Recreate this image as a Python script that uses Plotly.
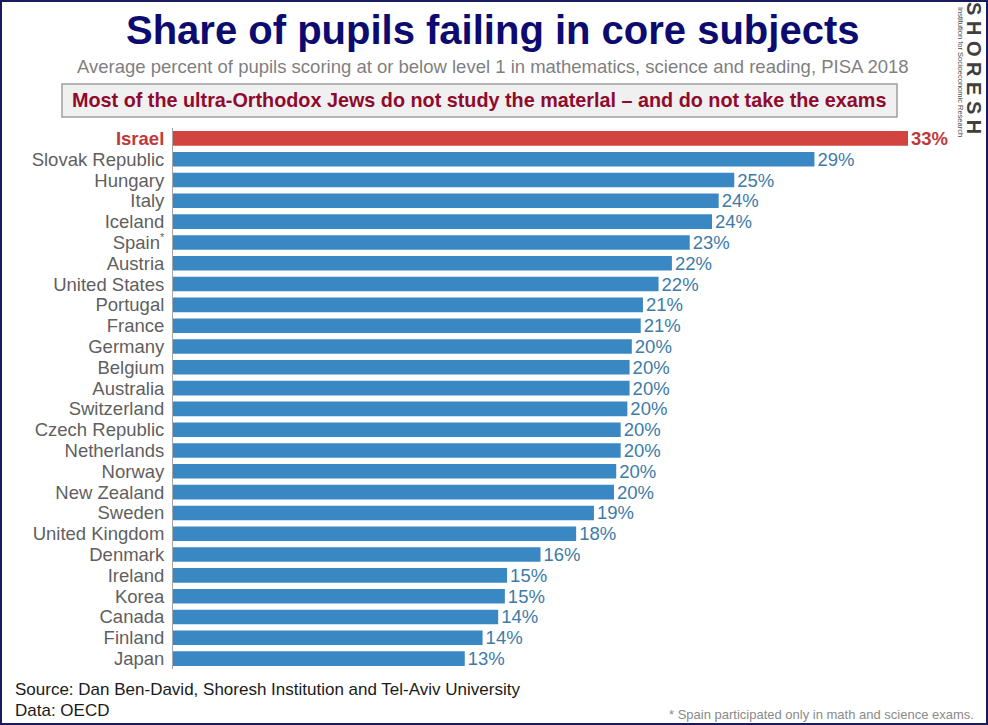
import plotly.graph_objects as go

countries = ["Israel", "Slovak Republic", "Hungary", "Italy", "Iceland", "Spain*",
             "Austria", "United States", "Portugal", "France", "Germany", "Belgium",
             "Australia", "Switzerland", "Czech Republic", "Netherlands", "Norway",
             "New Zealand", "Sweden", "United Kingdom", "Denmark", "Ireland", "Korea",
             "Canada", "Finland", "Japan"]
values = [33.0, 28.8, 25.2, 24.5, 24.2, 23.2, 22.4, 21.8, 21.1, 21.0, 20.6, 20.5,
          20.5, 20.4, 20.1, 20.1, 19.9, 19.8, 18.9, 18.1, 16.5, 15.0, 14.9,
          14.6, 13.9, 13.1]
value_labels = ["33%", "29%", "25%", "24%", "24%", "23%", "22%", "22%", "21%", "21%",
                "20%", "20%", "20%", "20%", "20%", "20%", "20%", "20%", "19%", "18%",
                "16%", "15%", "15%", "14%", "14%", "13%"]
highlight = "Israel"

title_text = "Share of pupils failing in core subjects"
subtitle_text = ("Average percent of pupils scoring at or below level 1 in mathematics, "
                 "science and reading, PISA 2018")
box_text = "Most of the ultra-Orthodox Jews do not study the materlal \u2013 and do not take the exams"
source_text = "Source: Dan Ben-David, Shoresh Institution and Tel-Aviv University"
data_text = "Data: OECD"
foot_text = "* Spain participated only in math and science exams."
logo_text = "S H O R E S H"
logo_sub = "Institution for Socioeconomic Research"

BLUE = "#3a88c3"
RED = "#d2443f"
BLUE_TXT = "#3d7ba8"
RED_TXT = "#c0393a"
GREY = "#5f5f5f"
SANS = "Liberation Sans, Arial, sans-serif"

W, H = 988, 725
L, R, T, B = 173, 36, 128, 56
PW, PH = W - L - R, H - T - B


def xp(px):
    return (px - L) / PW


def yp(py):
    return (H - B - py) / PH


def tick_label(c):
    if c == highlight:
        return f"<b><span style='color:{RED_TXT}'>{c}</span></b>"
    if c.endswith("*"):
        return c[:-1] + "<sup><span style='font-size:11px'>*</span></sup>"
    return c


bar_colors = [RED if c == highlight else BLUE for c in countries]
text_colors = [RED_TXT if c == highlight else BLUE_TXT for c in countries]
texts = [f"<b>{t}</b>" if c == highlight else t for c, t in zip(countries, value_labels)]
ticktext = [tick_label(c) for c in countries]

fig = go.Figure(go.Bar(
    y=countries, x=values, orientation="h",
    marker=dict(color=bar_colors, line=dict(width=0)),
    text=texts, textposition="outside", cliponaxis=False, constraintext="none",
    textfont=dict(color=text_colors, size=18.5, family=SANS),
    width=0.7, hoverinfo="skip",
))

fig.update_layout(
    width=W, height=H,
    margin=dict(l=L, r=R, t=T, b=B, autoexpand=False),
    paper_bgcolor="white", plot_bgcolor="white",
    showlegend=False,
    xaxis=dict(range=[0, PW / (908 - L) * 33], visible=False, fixedrange=True),
    yaxis=dict(autorange="reversed", tickmode="array", tickvals=countries, ticktext=ticktext,
               ticks="", ticklabelstandoff=4, showline=True, linecolor="#a6a6a6", linewidth=1,
               tickfont=dict(size=18.5, color=GREY, family=SANS), showgrid=False,
               fixedrange=True),
)

annos = [
    dict(text=f"<b>{title_text}</b>", x=xp(492), y=yp(30), font=dict(size=40, color="#0c0c70", family=SANS)),
    dict(text=subtitle_text, x=xp(493), y=yp(67), font=dict(size=18.5, color="#7f7f7f", family=SANS)),
    dict(text=f"<b>{box_text}</b>", x=xp(479), y=yp(100), font=dict(size=19.8, color="#8e0b2e", family=SANS)),
    dict(text=source_text, x=xp(13), y=yp(689), xanchor="left", font=dict(size=17, color="#1a1a1a", family=SANS)),
    dict(text=data_text, x=xp(13), y=yp(710), xanchor="left", font=dict(size=17, color="#1a1a1a", family=SANS)),
    dict(text=foot_text, x=xp(976), y=yp(714), xanchor="right", font=dict(size=13, color="#8a8a8a", family=SANS)),
    dict(text=f"<b>{logo_text}</b>", x=xp(974), y=yp(68), textangle=90, font=dict(size=20, color="#3f3f3f", family=SANS)),
    dict(text=logo_sub, x=xp(961), y=yp(72), textangle=90, font=dict(size=7.5, color="#4a4a4a", family=SANS)),
]
for a in annos:
    a.setdefault("xanchor", "center")
    a.update(xref="paper", yref="paper", showarrow=False, yanchor="middle")
fig.update_layout(annotations=annos)

fig.update_layout(shapes=[
    dict(type="rect", xref="paper", yref="paper", x0=xp(62), x1=xp(897), y0=yp(84), y1=yp(117),
         fillcolor="#f0f0f0", line=dict(color="#9e9e9e", width=1.5), layer="below"),
    dict(type="rect", xref="paper", yref="paper", x0=xp(1), x1=xp(W - 1), y0=yp(1), y1=yp(H - 1),
         fillcolor="rgba(0,0,0,0)", line=dict(color="#1a1a5e", width=2)),
])

fig.write_html("out.html", config={"displayModeBar": False},
               post_script="document.body.style.margin='0';")
